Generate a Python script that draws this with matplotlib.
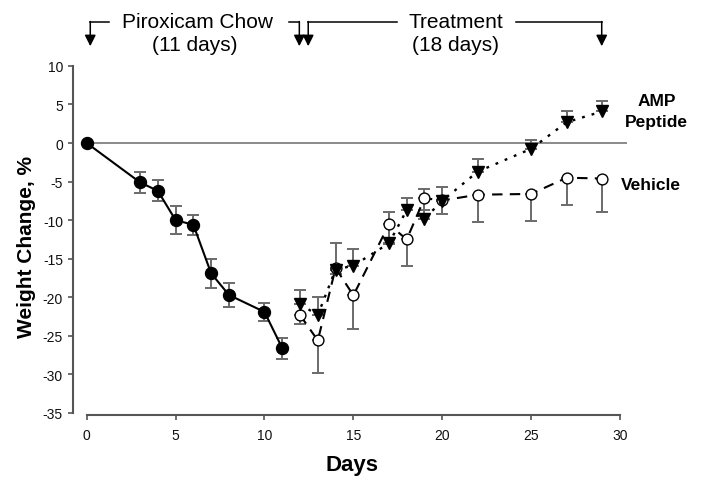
import matplotlib
matplotlib.use('Agg')
import matplotlib.pyplot as plt

plt.rcParams['font.family'] = ['Liberation Sans', 'DejaVu Sans']
plt.rcParams['axes.unicode_minus'] = False

# piroxicam chow phase
chow_days = [0, 3, 4, 5, 6, 7, 8, 10, 11]
chow_mean = [0, -5.1, -6.2, -10.0, -10.6, -16.9, -19.7, -21.9, -26.6]
chow_err = [0, 1.4, 1.35, 1.8, 1.3, 1.9, 1.6, 1.2, 1.35]

# treatment phase
treat_days = [12, 13, 14, 15, 17, 18, 19, 20, 22, 25, 27, 29]
amp_mean = [-20.9, -22.3, -16.4, -15.9, -13.0, -8.7, -9.8, -7.5, -3.7, -0.75, 2.7, 4.1]
amp_err = [1.8, 2.3, 3.4, 2.2, 4.1, 1.6, 3.9, 1.8, 1.6, 1.1, 1.5, 1.3]
veh_mean = [-22.3, -25.6, -16.2, -19.75, -10.55, -12.5, -7.15, -7.45, -6.7, -6.6, -4.5, -4.6]
veh_err = [1.2, 4.2, 0.8, 4.3, 2.5, 3.4, 1.5, 1.8, 3.5, 3.5, 3.6, 4.3]

fig = plt.figure(figsize=(7.01, 4.85), dpi=100)
ax = fig.add_axes([0.1237, 0.1464, 0.7608, 0.7157])
ax.set_xlim(0, 30)
ax.set_ylim(-35, 10)

grey = '#6a6a6a'
ax.plot([0, 30.35], [0, 0], color='#8a8a8a', lw=1.4, clip_on=False, zorder=1)

# error bars
ax.errorbar(chow_days[1:], chow_mean[1:], yerr=chow_err[1:], fmt='none',
            ecolor=grey, elinewidth=1.4, capsize=4, capthick=1.4, zorder=2)
ax.errorbar(treat_days, amp_mean, yerr=[[0] * len(amp_err), amp_err], fmt='none',
            ecolor=grey, elinewidth=1.4, capsize=4, capthick=1.4, zorder=2)
ax.errorbar(treat_days, veh_mean, yerr=[veh_err, [0] * len(veh_err)], fmt='none',
            ecolor=grey, elinewidth=1.4, capsize=4, capthick=1.4, zorder=2)

ax.plot(chow_days, chow_mean, '-', color='black', lw=1.5, marker='o', ms=8.6,
        mfc='black', mec='black', zorder=4, clip_on=False)
ax.plot(treat_days, veh_mean, color='black', lw=1.5, dashes=(5, 3.5), marker='o',
        ms=7.8, mfc='white', mec='black', mew=1.0, zorder=3)
ax.plot(treat_days, amp_mean, color='black', lw=1.7, dashes=(1.2, 3), marker='v',
        ms=9, mfc='black', mec='black', zorder=5)

# axes styling
for s in ['top', 'right']:
    ax.spines[s].set_visible(False)
ax.spines['left'].set_position(('outward', 9.6))
ax.spines['bottom'].set_position(('outward', 1.2))
for s in ['left', 'bottom']:
    ax.spines[s].set_color('#555555')
    ax.spines[s].set_linewidth(1.5)
ax.set_xticks(range(0, 31, 5))
ax.set_yticks(range(-35, 11, 5))
ax.tick_params(axis='both', colors='#555555', width=1.2, length=3.5, labelsize=10,
               labelcolor='#111111')
ax.tick_params(axis='y', pad=4)
ax.tick_params(axis='x', pad=6)

fig.text(27 / 701, 1 - 247 / 485, 'Weight Change, %', rotation=90, ha='center',
         va='center', fontsize=15, fontweight='bold')
fig.text(352 / 701, 1 - 466 / 485, 'Days', ha='center', va='center', fontsize=16,
         fontweight='bold')

# series labels
ax.text(32.07, 4.99, 'AMP', ha='center', va='baseline', fontsize=12.5,
        fontweight='bold', clip_on=False)
ax.text(32.07, 2.27, 'Peptide', ha='center', va='baseline', fontsize=12.5,
        fontweight='bold', clip_on=False)
ax.text(30.03, -5.95, 'Vehicle', ha='left', va='baseline', fontsize=12.5,
        fontweight='bold', clip_on=False)

# phase brackets on top
yl = 15.75
ytip = 12.55
kw = dict(color='black', lw=1.1, clip_on=False)
ax.plot([0.2, 1.27], [yl, yl], **kw)
ax.plot([11.38, 11.96], [yl, yl], **kw)
ax.plot([12.46, 17.45], [yl, yl], **kw)
ax.plot([24.13, 28.97], [yl, yl], **kw)
for xa in [0.2, 11.96, 12.46, 28.97]:
    ax.annotate('', xy=(xa, ytip), xytext=(xa, yl), annotation_clip=False,
                arrowprops=dict(arrowstyle='-|>,head_length=0.6,head_width=0.3',
                                color='black', lw=1.1,
                                mutation_scale=11, shrinkA=0, shrinkB=0))

ax.text(6.25, 14.98, 'Piroxicam Chow', ha='center', va='baseline', fontsize=15,
        clip_on=False)
ax.text(6.1, 12.12, '(11 days)', ha='center', va='baseline', fontsize=15,
        clip_on=False)
ax.text(20.77, 14.98, 'Treatment', ha='center', va='baseline', fontsize=15,
        clip_on=False)
ax.text(20.77, 12.12, '(18 days)', ha='center', va='baseline', fontsize=15,
        clip_on=False)

fig.savefig('out.png', dpi=100)
